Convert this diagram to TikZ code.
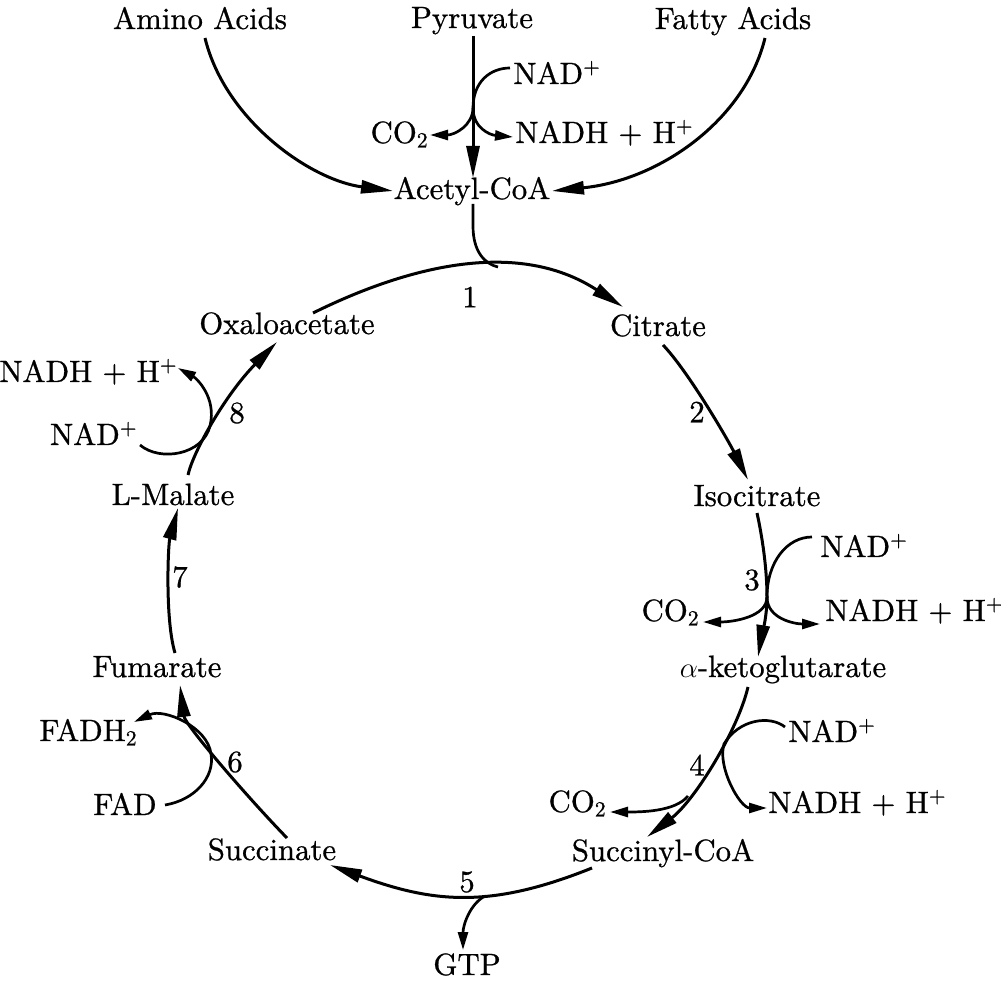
\documentclass[tikz,border=0pt]{standalone}
\usepackage{fontspec}
\setmainfont{lmroman10-regular}[Extension=.otf,FakeBold=0.8]
\usetikzlibrary{arrows.meta,calc}
\newcommand\sups[1]{\textsuperscript{#1}}
\newcommand\subs[1]{\textsubscript{#1}}
\begin{document}
\begin{tikzpicture}[x=0.5pt,y=-0.5pt,
  font=\fontsize{15.4}{18}\selectfont,
  lbl/.style={inner sep=0pt,anchor=base},
  num/.style={inner sep=0pt},
  main/.style={line width=1.5pt,-{Triangle[length=16pt,width=6.5pt]}},
  side/.style={line width=1.35pt,-{Triangle[length=9pt,width=5pt]}},
  plain/.style={line width=1.35pt}]
\useasboundingbox (0,0) rectangle (1001,983);
% --- nodes ---
\node[lbl] (aa) at (200,29) {Amino Acids};
\node[lbl] (pyr) at (472,28) {Pyruvate};
\node[lbl] (fa) at (733,29) {Fatty Acids};
\node[lbl,anchor=base west] (nadA) at (513,84) {NAD\sups{+}};
\node[lbl,anchor=base east] (coA) at (429,143) {CO\subs{2}};
\node[lbl,anchor=base west] (nadhA) at (515,143) {NADH + H\sups{+}};
\node[lbl] (acoa) at (472,199) {Acetyl-CoA};
\node[lbl] (oxa) at (287,334) {Oxaloacetate};
\node[lbl] (cit) at (658,336) {Citrate};
\node[lbl] (isoc) at (757,506) {Isocitrate};
\node[lbl] (akg) at (783,677) {$\alpha$-ketoglutarate};
\node[lbl,anchor=base west] (nadC) at (820,557) {NAD\sups{+}};
\node[lbl,anchor=base east] (coC) at (700,621) {CO\subs{2}};
\node[lbl,anchor=base west] (nadhC) at (825,621) {NADH + H\sups{+}};
\node[lbl,anchor=base west] (nadD) at (788,742) {NAD\sups{+}};
\node[lbl,anchor=base east] (coD) at (607,812) {CO\subs{2}};
\node[lbl,anchor=base west] (nadhD) at (768,813) {NADH + H\sups{+}};
\node[lbl] (sca) at (663,861) {Succinyl-CoA};
\node[lbl] (gtp) at (467,975) {GTP};
\node[lbl] (suc) at (272,860) {Succinate};
\node[lbl,anchor=base east] (fad) at (157,815) {FAD};
\node[lbl,anchor=base east] (fadh) at (138,741) {FADH\subs{2}};
\node[lbl] (fum) at (157,677) {Fumarate};
\node[lbl] (lmal) at (173,505) {L-Malate};
\node[lbl,anchor=base east] (nadH) at (138,445) {NAD\sups{+}};
\node[lbl,anchor=base east] (nadhH) at (178,382) {NADH + H\sups{+}};
% step numbers
\node[num] (s1) at (470,297) {1};
\node[num] (s2) at (697,412) {2};
\node[num] (s3) at (752,580) {3};
\node[num] (s4) at (697,765) {4};
\node[num] (s5) at (467,882) {5};
\node[num] (s6) at (235,762) {6};
\node[num] (s7) at (180,577) {7};
\node[num] (s8) at (237,413) {8};
% junctions
\coordinate (jA) at (473,108);
\coordinate (jTop) at (498,267);
\coordinate (jC) at (767,597);
\coordinate (jD) at (724,744);
\coordinate (jE) at (688,796);
\coordinate (jG) at (485,896);
\coordinate (jF) at (211,754);
\coordinate (jH) at (210,426);
% --- top feeders ---
\draw[main] ($(aa.base)+(5,9)$) .. controls +(20,82) and +(-83,-11) .. ($(acoa.base)+(-79,-8)$);
\draw[main] ($(fa.base)+(32,9)$) .. controls +(-20,82) and +(108,-11) .. ($(acoa.base)+(80,-8)$);
\draw[main] ($(pyr.base)+(1,8)$) -- ($(acoa.base)+(1,-21)$);
\draw[plain] ($(nadA.base west)+(-3,-16)$) .. controls +(-20,0) and +(0,-26) .. (jA);
\draw[side] (jA) .. controls +(0,17) and +(25,0) .. ($(coA.base east)+(1,-8)$);
\draw[side] (jA) .. controls +(0,20) and +(-23,-2) .. ($(nadhA.base west)+(-2,-6)$);
\draw[plain] ($(acoa.base)+(1,5)$) -- (473,226) .. controls (473,252) and (485,264) .. (jTop);
% --- cycle ---
\draw[main] ($(oxa.base)+(26,-21)$) .. controls +(87,-43) and +(-109,-71) .. ($(cit.base)+(-35,-29)$);
\draw[main] ($(cit.base)+(5,9)$) .. controls +(25,26) and +(-20,-40) .. ($(isoc.base)+(-9,-26)$);
\draw[main] ($(isoc.base)+(0,7)$) .. controls +(7,32) and +(0,-22) .. (jC) .. controls +(0,22) and +(3,-18) .. ($(akg.base)+(-25,-20)$);
\draw[plain] ($(nadC.base west)+(-8,-20)$) .. controls +(-25,0) and +(0,-35) .. (jC);
\draw[side] (jC) .. controls +(0,20) and +(30,0) .. ($(coC.base east)+(3,1)$);
\draw[side] (jC) .. controls +(0,22) and +(-25,0) .. ($(nadhC.base west)+(-5,3)$);
\draw[main] ($(akg.base)+(-35,10)$) .. controls +(-10,43) and +(48,-37) .. ($(sca.base)+(-16,-24)$);
\draw[side] ($(nadD.base west)+(-3,-15)$) .. controls +(-15,-12) and +(15,-25) .. (jD) .. controls +(-7,23) and +(-27,0) .. ($(nadhD.base west)+(-1,-5)$);
\draw[side] (jE) .. controls +(-13,16) and +(30,0) .. ($(coD.base east)+(3,0)$);
\draw[main] ($(sca.base)+(-71,7)$) .. controls +(-102,41) and +(103,38) .. ($(suc.base)+(58,5)$);
\draw[side] (jG) .. controls +(-15,8) and +(0,-25) .. ($(gtp.base)+(-4,-25)$);
\draw[main] ($(suc.base)+(15,-22)$) .. controls +(-37,-38) and +(5,40) .. ($(fum.base)+(23,8)$);
\draw[side] ($(fad.base east)+(8,-10)$) .. controls +(30,-5) and +(4,23) .. (jF) .. controls +(-3,-27) and +(30,-14) .. ($(fadh.base east)+(-4,-19)$);
\draw[main] ($(fum.base)+(18,-24)$) .. controls +(-10,-33) and +(-10,37) .. ($(lmal.base)+(5,3)$);
\draw[main] ($(lmal.base)+(15,-30)$) .. controls +(5,-23) and +(-52,53) .. ($(oxa.base)+(-10,8)$);
\draw[side] ($(nadH.base east)+(2,0)$) .. controls +(20,17) and +(-7,29) .. (jH) .. controls +(7,-29) and +(18,10) .. ($(nadhH.base east)+(0,-14)$);
\end{tikzpicture}
\end{document}
